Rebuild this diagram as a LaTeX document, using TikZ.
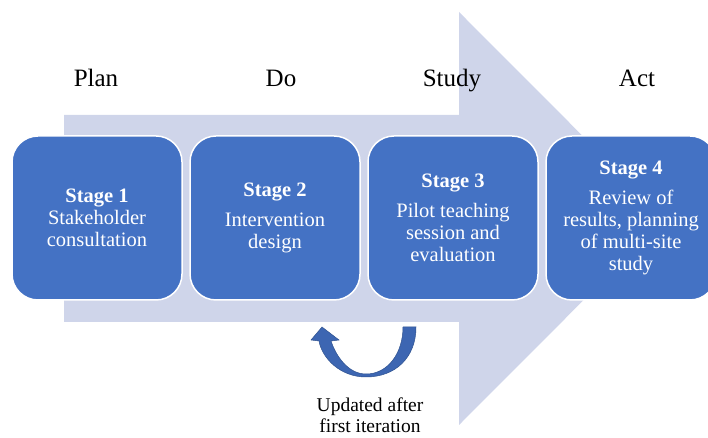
\documentclass[tikz,border=0pt]{standalone}
\usepackage{fontspec}
\setmainfont{Liberation Serif}
\usepackage{xcolor}
\usetikzlibrary{positioning}

\definecolor{stageblue}{RGB}{68,114,196}
\definecolor{flowback}{RGB}{207,213,234}
\definecolor{loopblue}{RGB}{61,102,178}
\definecolor{loopedge}{RGB}{47,82,143}

\begin{document}
\begin{tikzpicture}[
    x=1pt, y=1pt,
    node distance=8pt,
    box/.style={rectangle, draw=white, line width=1.5pt, rounded corners=26pt, minimum width=170pt, minimum height=164pt, inner sep=0pt, outer sep=0pt, align=center, text=white, fill=stageblue, font=\fontsize{20.5}{22}\selectfont},
    phase/.style={anchor=base, inner sep=0pt, font=\fontsize{25}{30}\selectfont},
    note/.style={anchor=north, inner sep=0pt, align=center, font=\fontsize{19.5}{20.5}\selectfont},
]
\useasboundingbox (0,0) rectangle (708,438);

% background arrow
\fill[flowback] (64,116) -- (64,323) -- (459,323) -- (459,426) -- (665,219.5) -- (459,13) -- (459,116) -- cycle;

\foreach \name/\x/\txt in {plan/96/Plan, do/281/Do, study/452/Study, act/637/Act} {
    \node[phase] (\name) at (\x,351) {\txt};
}

\node[box] (stage1) at (97,220) {\textbf{Stage 1}\\Stakeholder\\consultation};
\node[box, right=of stage1] (stage2) {\textbf{Stage 2}\\[8pt]Intervention\\design};
\node[box, right=of stage2] (stage3) {\textbf{Stage 3}\\[8pt]Pilot teaching\\session and\\evaluation};
\node[box, right=of stage3] (stage4) {\textbf{Stage 4}\\[8pt]Review of\\results, planning\\of multi-site\\study};

% loop back arrow
\filldraw[fill=loopblue, draw=loopedge, line width=0.5pt]
    (416,111) .. controls (416,80) and (395,61) .. (366,61)
    .. controls (340,61) and (322,80) .. (319,97)
    -- (311,98) -- (322,111) -- (339,98) -- (331,97)
    .. controls (336,82) and (348,64) .. (366,64)
    .. controls (388,64) and (403,85) .. (403,111) -- cycle;

\node[note] (update) at (370,40) {Updated after\\first iteration};

\end{tikzpicture}
\end{document}
